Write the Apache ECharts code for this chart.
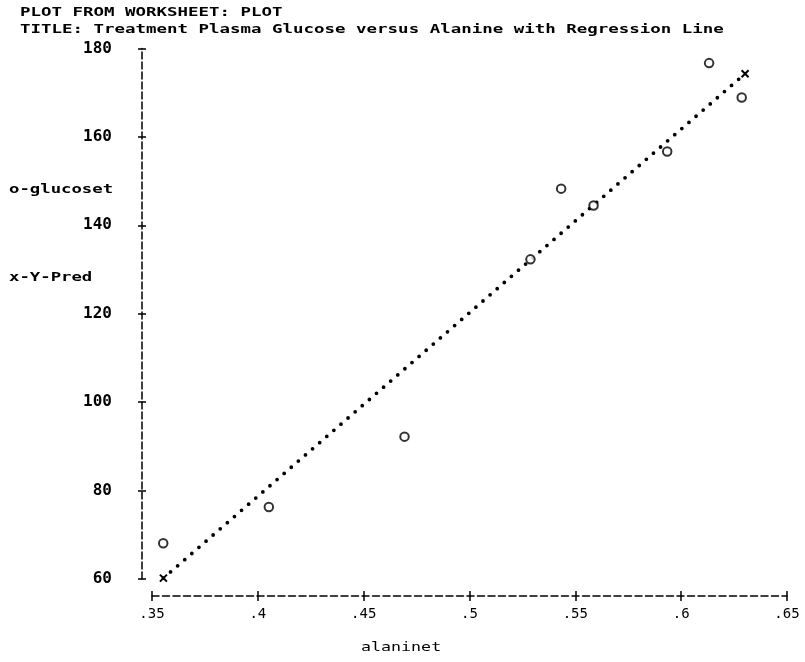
<!DOCTYPE html>
<html>
<head>
<meta charset="utf-8">
<script src="https://cdn.jsdelivr.net/npm/echarts@6/dist/echarts.min.js"></script>
<style>
html,body{margin:0;padding:0;background:#fff;}
#chart{width:805px;height:662px;}
</style>
</head>
<body>
<div id="chart"></div>
<script>
// ---- data ----
var alanine = [0.3553, 0.4052, 0.4693, 0.5288, 0.5433, 0.5586, 0.5934, 0.6132, 0.6286];
var glucose = [68.1, 76.3, 92.2, 132.3, 148.3, 144.5, 156.7, 176.7, 168.9];
var predX = [0.3554, 0.6302];
var predY = [60.2, 174.3];
var xTickValues = [0.35, 0.40, 0.45, 0.50, 0.55, 0.60, 0.65];
var xTickLabels = ['.35', '.4', '.45', '.5', '.55', '.6', '.65'];
var yTickValues = [60, 80, 100, 120, 140, 160, 180];
var yTickLabels = ['60', '80', '100', '120', '140', '160', '180'];
var titleLines = ['PLOT FROM WORKSHEET: PLOT', 'TITLE: Treatment Plasma Glucose versus Alanine with Regression Line'];
var seriesNames = ['o-glucoset', 'x-Y-Pred'];
var xName = 'alaninet';

var MONO = '"DejaVu Sans Mono", "Liberation Mono", monospace';

function xLabel(v) {
  for (var i = 0; i < xTickValues.length; i++) {
    if (Math.abs(xTickValues[i] - v) < 1e-6) return xTickLabels[i];
  }
  return '';
}
function yLabel(v) {
  for (var i = 0; i < yTickValues.length; i++) {
    if (Math.abs(yTickValues[i] - v) < 1e-6) return yTickLabels[i];
  }
  return '';
}

var chart = echarts.init(document.getElementById('chart'), null, {renderer: 'canvas'});

function txt(text, x, y, bold, sx) {
  return {
    type: 'text', x: x, y: y, scaleX: sx, scaleY: 1,
    style: {
      text: text, fill: '#000',
      font: (bold ? 'bold ' : '') + '13px ' + MONO,
      align: 'left', verticalAlign: 'middle'
    }
  };
}

var option = {
  animation: false,
  backgroundColor: '#fff',
  grid: {left: 152, right: 18, top: 48.5, bottom: 83, containLabel: false},
  xAxis: [{
    type: 'value', min: 0.35, max: 0.65, interval: 0.05,
    position: 'bottom', offset: 17,
    axisLine: {show: true, lineStyle: {color: '#000', width: 1.5, type: [7, 3.5]}},
    axisTick: {show: true, inside: false, length: 5, lineStyle: {color: '#000', width: 1.5}},
    axisLabel: {show: true, margin: 11, formatter: xLabel, color: '#000',
      fontFamily: MONO, fontSize: 14},
    splitLine: {show: false}
  }, {
    type: 'value', min: 0.35, max: 0.65, interval: 0.05,
    position: 'bottom', offset: 17,
    axisLine: {show: false},
    axisTick: {show: true, inside: true, length: 5, lineStyle: {color: '#000', width: 1.5}},
    axisLabel: {show: false},
    splitLine: {show: false}
  }],
  yAxis: [{
    type: 'value', min: 60, max: 180, interval: 20,
    position: 'left', offset: 10,
    axisLine: {show: true, lineStyle: {color: '#000', width: 1.5, type: [7, 3]}},
    axisTick: {show: true, inside: false, length: 4, lineStyle: {color: '#000', width: 1.5}},
    axisLabel: {show: true, margin: 30, formatter: yLabel, color: '#000',
      fontFamily: MONO, fontSize: 16, fontWeight: 'bold'},
    splitLine: {show: false}
  }, {
    type: 'value', min: 60, max: 180, interval: 20,
    position: 'left', offset: 10,
    axisLine: {show: false},
    axisTick: {show: true, inside: true, length: 4, lineStyle: {color: '#000', width: 1.5}},
    axisLabel: {show: false},
    splitLine: {show: false}
  }],
  series: [{
    name: seriesNames[0],
    type: 'scatter',
    xAxisIndex: 0, yAxisIndex: 0,
    data: alanine.map(function (x, i) { return [x, glucose[i]]; }),
    symbol: 'emptyCircle',
    symbolSize: 8.5,
    itemStyle: {color: '#000', borderColor: '#000', borderWidth: 1.4},
    z: 3
  }, {
    name: seriesNames[1],
    type: 'line',
    xAxisIndex: 0, yAxisIndex: 0,
    data: predX.map(function (x, i) { return [x, predY[i]]; }),
    showSymbol: true,
    symbol: 'path://M0,0L10,10M10,0L0,10',
    symbolSize: 7,
    itemStyle: {color: '#000', borderColor: '#000', borderWidth: 2},
    lineStyle: {color: '#000', width: 3.8, type: [0, 9.4], cap: 'round'},
    z: 2
  }],
  graphic: [
    txt(titleLines[0], 20, 12.5, true, 1.342),
    txt(titleLines[1], 20, 30, true, 1.342),
    txt(seriesNames[0], 9, 190, true, 1.33),
    txt(seriesNames[1], 9, 278, true, 1.33),
    txt(xName, 361, 648, false, 1.28)
  ]
};

chart.setOption(option);
</script>
</body>
</html>
